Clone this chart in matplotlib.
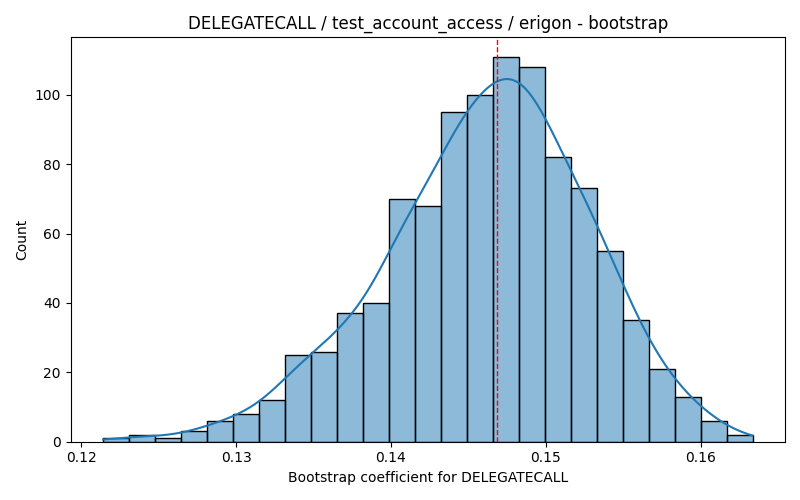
import numpy as np
import matplotlib
matplotlib.use("Agg")
import matplotlib.pyplot as plt

# histogram (25 bins)
bin_start = 0.12142
bin_end = 0.16335
counts = [1, 2, 1, 3, 6, 8, 12, 25, 26, 37, 40, 70, 68, 95, 100,
          111, 108, 82, 73, 55, 35, 21, 13, 6, 2]
mean_coef = 0.14688

edges = np.linspace(bin_start, bin_end, len(counts) + 1)
centers = (edges[:-1] + edges[1:]) / 2
counts = np.array(counts)
width = edges[1] - edges[0]

fig, ax = plt.subplots(figsize=(8, 5), dpi=100)

ax.hist(centers, bins=edges, weights=counts, edgecolor="black", linewidth=1)
# half transparent face, opaque edge (seaborn look)
for p in ax.patches:
    p.set_facecolor((0.1216, 0.4667, 0.7059, 0.5))
    p.set_edgecolor("black")

# gaussian kde from the binned counts, scott's rule
n = counts.sum()
mu = np.sum(centers * counts) / n
sd = np.sqrt(np.sum(counts * (centers - mu) ** 2) / n + width ** 2 / 12)
bw = sd * n ** (-1 / 5)
bw = np.sqrt(bw ** 2 + width ** 2 / 12)  # spread within bin
grid = np.linspace(bin_start, bin_end, 300)
dens = np.zeros_like(grid)
for c, k in zip(centers, counts):
    dens += k * np.exp(-0.5 * ((grid - c) / bw) ** 2)
dens = dens / (np.sqrt(2 * np.pi) * bw * n)
ax.plot(grid, dens * n * width, color="C0", linewidth=1.5)

ax.axvline(mean_coef, color="red", linestyle="--", linewidth=1)

ax.set_title("DELEGATECALL / test_account_access / erigon - bootstrap")
ax.set_xlabel("Bootstrap coefficient for DELEGATECALL")
ax.set_ylabel("Count")

plt.tight_layout()
plt.savefig("out.png")
plt.close()
